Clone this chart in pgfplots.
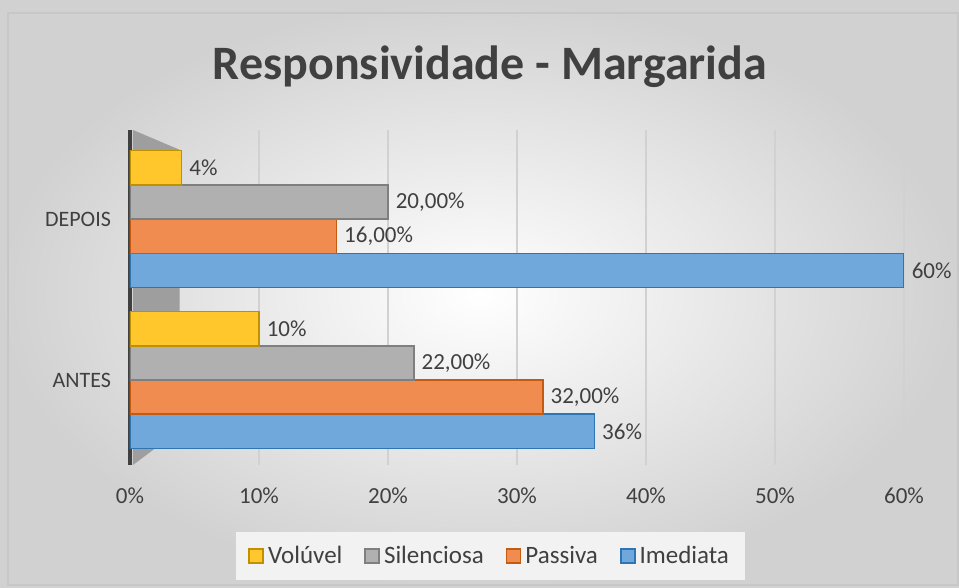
\documentclass[border=0pt]{standalone}
\usepackage{fontspec}
\setmainfont{Carlito}
\usepackage{pgfplots}
\pgfplotsset{compat=1.18}
\definecolor{txt}{HTML}{404040}
\definecolor{yel}{HTML}{FFC72C}
\definecolor{yelD}{HTML}{BF9000}
\definecolor{gry}{HTML}{B0B0B0}
\definecolor{gryD}{HTML}{7F7F7F}
\definecolor{org}{HTML}{F08C50}
\definecolor{orgD}{HTML}{C55A11}
\definecolor{blu}{HTML}{70A8DC}
\definecolor{bluD}{HTML}{2E75B6}
\begin{document}
\begin{tikzpicture}
\path[use as bounding box] (0,0) rectangle (479.5pt,294pt);
\shade[inner color=white, outer color=black!18] (0,0) rectangle (479.5pt,294pt);
\draw[black!22, line width=0.6pt] (4pt,1.5pt) rectangle (479pt,287.5pt);
\node[font=\fontsize{24}{28}\selectfont\bfseries, text=txt] at (245pt,260.5pt) {Responsividade - Margarida};
\begin{axis}[
    at={(65pt,61.5pt)}, anchor=south west,
    scale only axis, width=387pt, height=167.5pt,
    xbar=0pt, bar width=0.213,
    xmin=0, xmax=60, ymin=-0.528, ymax=1.553,
    ytick={0,1}, yticklabels={ANTES,DEPOIS},
    xtick={0,10,20,30,40,50,60},
    xticklabels={0\%,10\%,20\%,30\%,40\%,50\%,60\%},
    major tick length=0pt,
    xmajorgrids, grid style={black!18, line width=0.6pt},
    axis x line*=bottom, axis y line*=left,
    x axis line style={draw=none},
    y axis line style={draw=black!75, line width=2.2pt},
    tick label style={font=\fontsize{11.5}{13}\selectfont, text=txt},
    yticklabel style={font=\fontsize{11}{13}\selectfont, xshift=-6pt},
    xticklabel style={yshift=-8pt},
    point meta=explicit symbolic,
    nodes near coords,
    nodes near coords style={font=\fontsize{11.5}{13}\selectfont, text=txt, anchor=west, inner xsep=1.5pt, xshift=2pt},
    reverse legend,
    legend columns=4,
    legend style={at={(0.466,-0.2716)}, anchor=center, fill=black!5, draw=none,
        font=\fontsize{12.5}{14}\selectfont, text=txt, inner xsep=6pt, inner ysep=5pt,
        /tikz/every even column/.append style={column sep=9pt}},
    legend image code/.code={\draw[#1, line width=0.8pt] (0pt,-3.5pt) rectangle (7pt,3.5pt);},
]
\fill[black!38] (axis cs:0.23,1.553) -- (axis cs:3.85,1.43) -- (axis cs:3.85,-0.31) -- (axis cs:0.23,-0.528) -- cycle;
\addplot[fill=blu, draw=bluD, line width=0.8pt] coordinates {(36,0) [36\%] (60,1) [60\%]};
\addplot[fill=org, draw=orgD, line width=0.8pt] coordinates {(32,0) [32,00\%] (16,1) [16,00\%]};
\addplot[fill=gry, draw=gryD, line width=0.8pt] coordinates {(22,0) [22,00\%] (20,1) [20,00\%]};
\addplot[fill=yel, draw=yelD, line width=0.8pt] coordinates {(10,0) [10\%] (4,1) [4\%]};
\legend{Imediata, Passiva, Silenciosa, Volúvel}
\end{axis}
\end{tikzpicture}
\end{document}
